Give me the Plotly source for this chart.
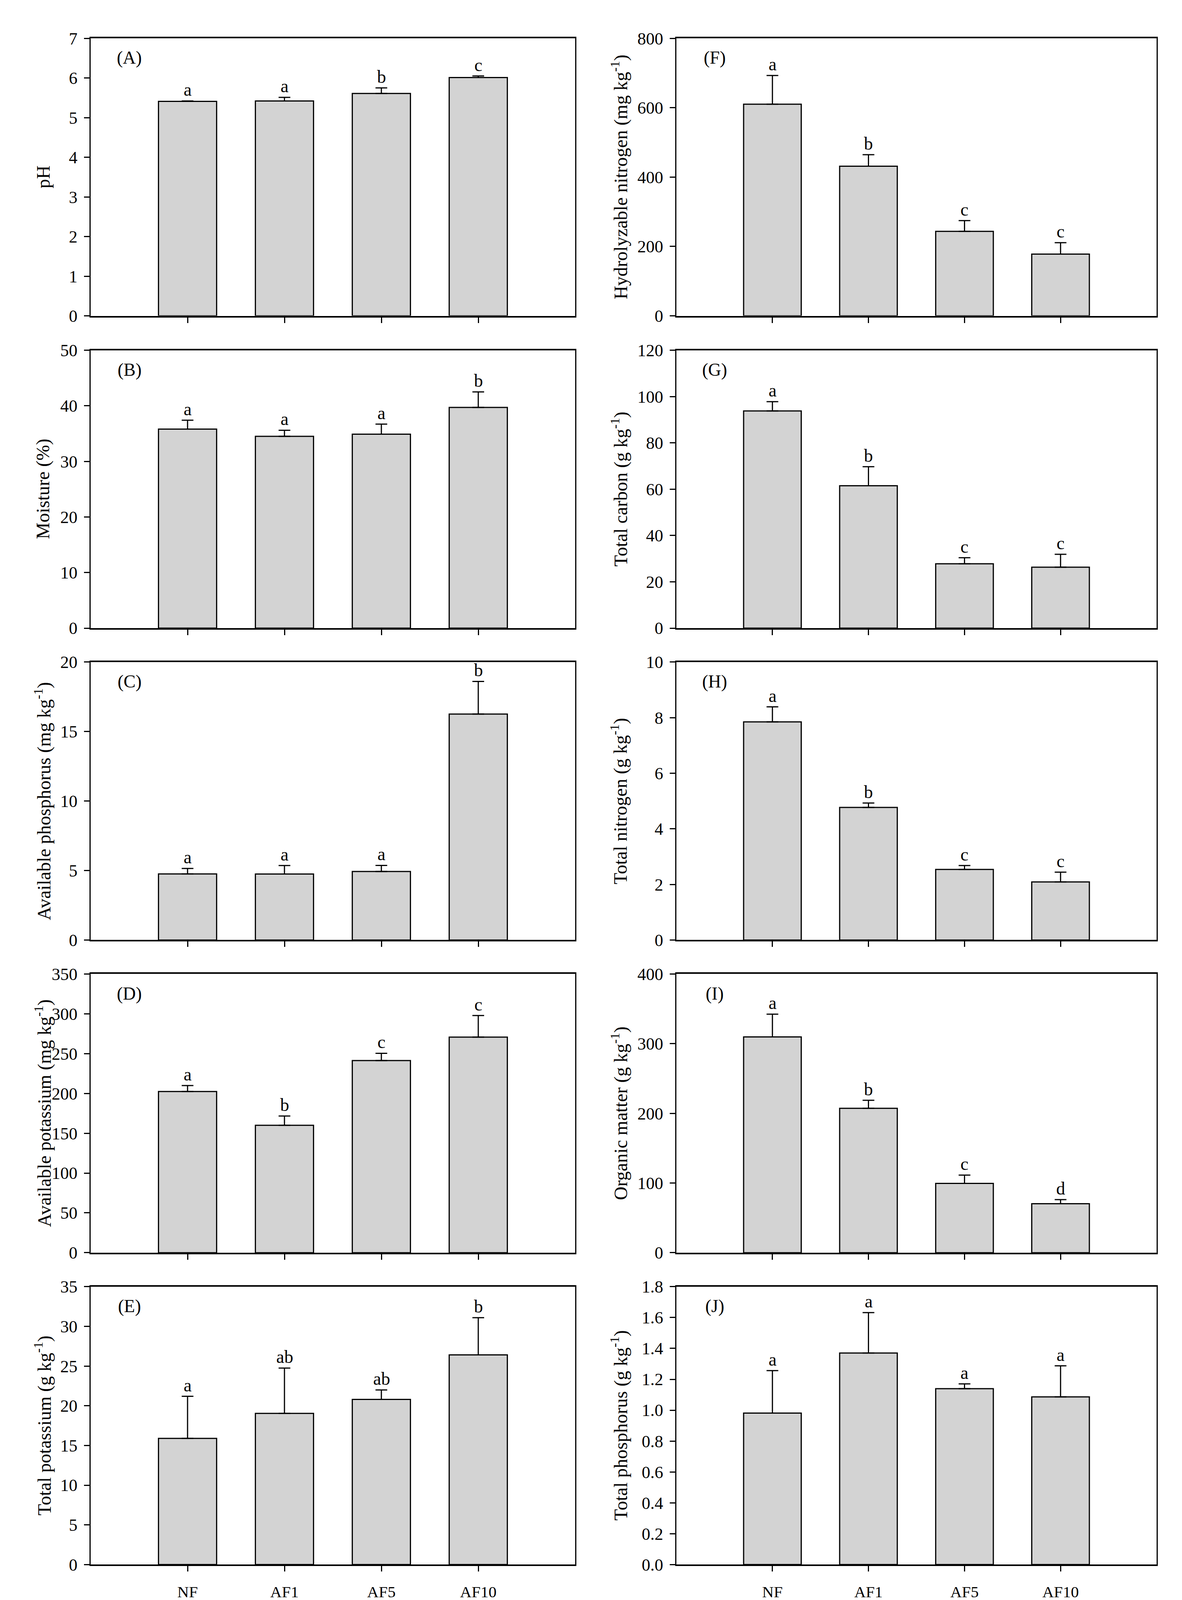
import plotly.graph_objects as go

# treatments
categories = ["NF", "AF1", "AF5", "AF10"]

# (A) pH
ph_mean = [5.41, 5.42, 5.61, 6.01]
ph_err = [0.01, 0.09, 0.14, 0.04]
ph_letters = ["a", "a", "b", "c"]

# (B) moisture
moist_mean = [35.8, 34.5, 34.9, 39.7]
moist_err = [1.6, 1.1, 1.8, 2.8]
moist_letters = ["a", "a", "a", "b"]

# (C) available phosphorus
ap_mean = [4.76, 4.75, 4.93, 16.26]
ap_err = [0.39, 0.61, 0.44, 2.35]
ap_letters = ["a", "a", "a", "b"]

# (D) available potassium
ak_mean = [202.4, 160.0, 241.3, 270.8]
ak_err = [7.5, 11.7, 9.1, 27.1]
ak_letters = ["a", "b", "c", "c"]

# (E) total potassium
tk_mean = [15.89, 19.04, 20.80, 26.41]
tk_err = [5.30, 5.71, 1.19, 4.68]
tk_letters = ["a", "ab", "ab", "b"]

# (F) hydrolyzable nitrogen
hn_mean = [610.0, 431.5, 243.6, 178.0]
hn_err = [83.0, 33.0, 31.0, 33.0]
hn_letters = ["a", "b", "c", "c"]

# (G) total carbon
tc_mean = [93.8, 61.5, 27.8, 26.3]
tc_err = [4.0, 8.2, 2.6, 5.6]
tc_letters = ["a", "b", "c", "c"]

# (H) total nitrogen
tn_mean = [7.85, 4.77, 2.54, 2.09]
tn_err = [0.54, 0.16, 0.14, 0.35]
tn_letters = ["a", "b", "c", "c"]

# (I) organic matter
om_mean = [309.7, 207.2, 99.5, 70.3]
om_err = [32.7, 11.5, 11.8, 5.9]
om_letters = ["a", "b", "c", "d"]

# (J) total phosphorus
tp_mean = [0.981, 1.370, 1.139, 1.086]
tp_err = [0.275, 0.262, 0.031, 0.201]
tp_letters = ["a", "a", "a", "a"]

# panel tag, y title, mean, err, letters, y max, y step, tick format
panels = [
    ("(A)", "pH", ph_mean, ph_err, ph_letters, 7, 1, None),
    ("(B)", "Moisture (%)", moist_mean, moist_err, moist_letters, 50, 10, None),
    ("(C)", "Available phosphorus (mg kg<sup>-1</sup>)", ap_mean, ap_err, ap_letters, 20, 5, None),
    ("(D)", "Available potassium (mg kg<sup>-1</sup>)", ak_mean, ak_err, ak_letters, 350, 50, None),
    ("(E)", "Total potassium (g kg<sup>-1</sup>)", tk_mean, tk_err, tk_letters, 35, 5, None),
    ("(F)", "Hydrolyzable nitrogen (mg kg<sup>-1</sup>)", hn_mean, hn_err, hn_letters, 800, 200, None),
    ("(G)", "Total carbon (g kg<sup>-1</sup>)", tc_mean, tc_err, tc_letters, 120, 20, None),
    ("(H)", "Total nitrogen (g kg<sup>-1</sup>)", tn_mean, tn_err, tn_letters, 10, 2, None),
    ("(I)", "Organic matter (g kg<sup>-1</sup>)", om_mean, om_err, om_letters, 400, 100, None),
    ("(J)", "Total phosphorus (g kg<sup>-1</sup>)", tp_mean, tp_err, tp_letters, 1.8, 0.2, ".1f"),
]

W, H = 3025, 4141
FONT = "Liberation Serif"

# pixel layout of the grid
col_x = [(232, 1472), (1731, 2960)]
row_y = [(75, 794), (883, 1603), (1691, 2411), (2499, 3221), (3309, 4029)]
title_off = [122, 146]

fig = go.Figure()
layout = {}
annotations = []

for i, (tag, ytitle, mean, err, letters, ymax, step, fmt) in enumerate(panels):
    n = i + 1
    col = i // 5
    row = i % 5
    xs = "" if n == 1 else str(n)
    x0, x1 = col_x[col]
    top, bot = row_y[row]

    fig.add_trace(go.Bar(
        x=categories, y=mean,
        xaxis="x" + xs, yaxis="y" + xs,
        width=0.6,
        marker=dict(color="#d3d3d3", line=dict(color="black", width=3)),
        error_y=dict(type="data", array=err, arrayminus=[0] * 4, symmetric=False,
                     color="black", thickness=3, width=15),
        showlegend=False,
    ))

    layout["xaxis" + xs] = dict(
        domain=[x0 / W, x1 / W], anchor="y" + xs,
        type="category", range=[-1, 4],
        showline=True, linewidth=4, linecolor="black", mirror=True,
        ticks="outside", ticklen=14, tickwidth=3, tickcolor="black",
        showgrid=False, showticklabels=(row == 4),
        tickfont=dict(family=FONT, size=41, color="black"),
        ticklabelstandoff=16,
    )
    layout["yaxis" + xs] = dict(
        domain=[1 - bot / H, 1 - top / H], anchor="x" + xs,
        range=[0, ymax], dtick=step, tick0=0,
        showline=True, linewidth=3, linecolor="black", mirror=True,
        ticks="outside", ticklen=14, tickwidth=3, tickcolor="black",
        showgrid=False, zeroline=False,
        tickfont=dict(family=FONT, size=44, color="black"),
        tickformat=fmt, ticklabelstandoff=8,
    )

    # y title
    annotations.append(dict(
        text=ytitle, textangle=-90,
        xref="paper", x=(x0 - title_off[col]) / W, xanchor="center",
        yref="y" + xs + " domain", y=0.5, yanchor="middle",
        showarrow=False, font=dict(family=FONT, size=48, color="black"),
    ))
    # panel tag
    annotations.append(dict(
        text=tag, xref="x" + xs + " domain", x=0.08, xanchor="center",
        yref="y" + xs + " domain", y=0.93, yanchor="middle",
        showarrow=False, font=dict(family=FONT, size=46, color="black"),
    ))
    # significance letters
    for c, m, e, lt in zip(categories, mean, err, letters):
        annotations.append(dict(
            text=lt, xref="x" + xs, x=c, yref="y" + xs, y=m + e,
            yanchor="bottom", yshift=1, showarrow=False,
            font=dict(family=FONT, size=46, color="black"),
        ))

fig.update_layout(**layout)
fig.update_layout(
    width=W, height=H, autosize=False,
    margin=dict(l=0, r=0, t=0, b=0),
    paper_bgcolor="white", plot_bgcolor="white",
    annotations=annotations,
    bargap=0.4,
)
fig.write_html(
    "out.html",
    config={"displayModeBar": False},
    post_script="document.body.style.margin='0';document.body.style.overflow='hidden';",
)
